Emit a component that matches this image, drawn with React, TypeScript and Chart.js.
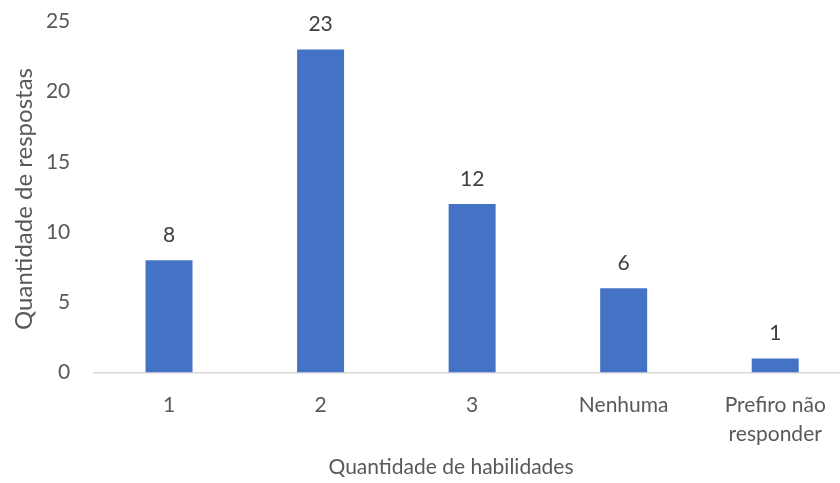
import React, { useEffect, useRef } from "react";
import { Chart, registerables } from "chart.js";

Chart.register(...registerables);

const categories: (string | string[])[] = ["1", "2", "3", "Nenhuma", ["Prefiro não", "responder"]];
const responses: number[] = [8, 23, 12, 6, 1];
const yTicks: number[] = [0, 5, 10, 15, 20, 25];
const xTitle = "Quantidade de habilidades";
const yTitle = "Quantidade de respostas";

const FONT = "Lato, 'Open Sans', sans-serif";
const TEXT = "#595959";

// Value labels above each bar and the two axis titles
const annotations = {
  id: "annotations",
  afterDatasetsDraw(chart: any) {
    const ctx = chart.ctx;
    const meta = chart.getDatasetMeta(0);
    ctx.save();
    ctx.fillStyle = "#404040";
    ctx.font = `21px ${FONT}`;
    ctx.textAlign = "center";
    ctx.textBaseline = "middle";
    meta.data.forEach((bar: any, i: number) => {
      ctx.fillText(String(responses[i]), bar.x, bar.y - 25);
    });

    ctx.fillStyle = TEXT;
    ctx.font = `21px ${FONT}`;
    ctx.fillText(xTitle, 451, 467);

    ctx.font = `24px ${FONT}`;
    ctx.translate(24, 199);
    ctx.rotate(-Math.PI / 2);
    ctx.fillText(yTitle, 0, 0);
    ctx.restore();
  },
};

export default function App() {
  const ref = useRef<HTMLCanvasElement | null>(null);

  useEffect(() => {
    if (!ref.current) return;
    const chart = new Chart(ref.current, {
      type: "bar",
      data: {
        labels: categories,
        datasets: [
          {
            data: responses,
            backgroundColor: "#4472C4",
            barPercentage: 1,
            categoryPercentage: 0.31,
          },
        ],
      },
      options: {
        animation: false,
        responsive: false,
        devicePixelRatio: 1,
        layout: { padding: 0 },
        plugins: { legend: { display: false }, tooltip: { enabled: false } },
        scales: {
          x: {
            grid: { display: false, drawTicks: false },
            border: { display: true, color: "#D9D9D9", width: 1.5 },
            ticks: {
              color: TEXT,
              font: { family: FONT, size: 21, lineHeight: 1.4 },
              padding: 18,
              maxRotation: 0,
              autoSkip: false,
            },
            afterFit(scale: any) {
              scale.height = 110.5;
            },
          },
          y: {
            min: 0,
            max: 25,
            afterBuildTicks(scale: any) {
              scale.ticks = yTicks.map((v) => ({ value: v }));
            },
            grid: { display: false, drawTicks: false },
            border: { display: false },
            ticks: {
              color: TEXT,
              font: { family: FONT, size: 21 },
              padding: 23,
            },
            afterFit(scale: any) {
              scale.width = 93.25;
              scale.paddingTop = 21.5;
              scale.paddingBottom = 0;
            },
          },
        },
      },
      plugins: [annotations],
    });
    return () => chart.destroy();
  }, []);

  return (
    <div
      style={{
        position: "fixed",
        left: 0,
        top: 0,
        width: 840,
        height: 483,
        overflow: "hidden",
        background: "#ffffff",
      }}
    >
      <canvas ref={ref} width={851} height={483} style={{ display: "block" }} />
    </div>
  );
}
